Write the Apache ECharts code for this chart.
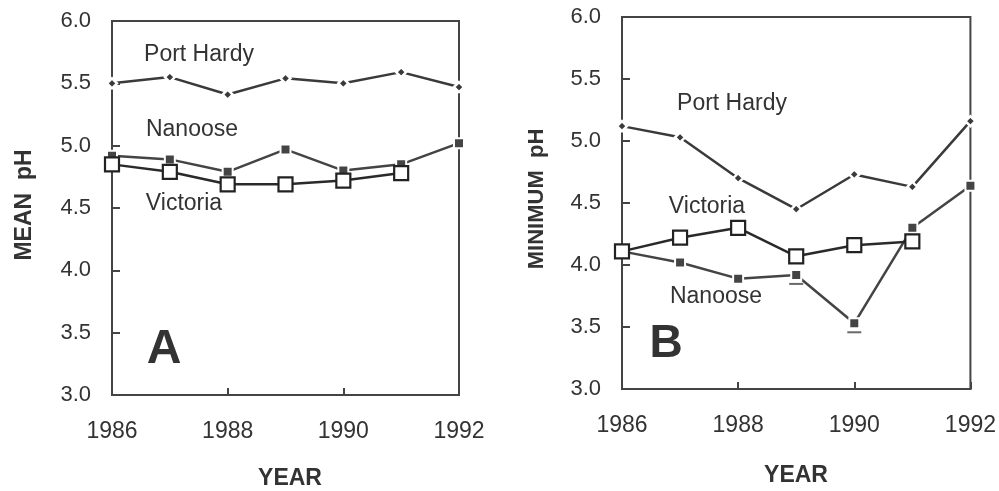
<!DOCTYPE html>
<html>
<head>
<meta charset="utf-8">
<script src="https://cdn.jsdelivr.net/npm/echarts@6/dist/echarts.min.js"></script>
<style>
html,body{margin:0;padding:0;background:#fff;}
#chart{width:999px;height:491px;}
</style>
</head>
<body>
<div id="chart"></div>
<script>
// ---- data ----
const years = [1986, 1987, 1988, 1989, 1990, 1991, 1992];
const meanPortHardy = [5.50, 5.55, 5.41, 5.54, 5.50, 5.59, 5.47];
const meanNanoose   = [4.92, 4.89, 4.79, 4.97, 4.80, 4.85, 5.02];
const meanVictoria  = [4.85, 4.79, 4.69, 4.69, 4.72, 4.78, null];
const minPortHardy  = [5.12, 5.03, 4.70, 4.45, 4.73, 4.63, 5.16];
const minNanoose    = [4.11, 4.02, 3.89, 3.92, 3.53, 4.30, 4.64];
const minVictoria   = [4.11, 4.22, 4.30, 4.07, 4.16, 4.19, null];
const minNanooseUnderlined = [1989, 1990];
const yTicks = [3.0, 3.5, 4.0, 4.5, 5.0, 5.5, 6.0];
const xTickLabels = ['1986', '1988', '1990', '1992'];
const seriesNames = ['Port Hardy', 'Nanoose', 'Victoria'];
const panelLetters = ['A', 'B'];
const yTitles = ['MEAN  pH', 'MINIMUM  pH'];
const xTitle = 'YEAR';

const FONT = '"Liberation Sans", Arial, Helvetica, sans-serif';
const INK = '#333';

function pairs(vals) {
  const out = [];
  years.forEach((y, i) => { if (vals[i] != null) out.push([y, vals[i]]); });
  return out;
}

function xAxis(gi) {
  return {
    type: 'value', gridIndex: gi, min: years[0], max: years[years.length - 1], interval: 2,
    axisLine: { show: true, lineStyle: { color: '#444', width: 2 } },
    axisTick: { show: true, inside: true, length: 7, lineStyle: { color: '#444', width: 2 } },
    splitLine: { show: false },
    axisLabel: { fontSize: 23, color: INK, fontFamily: FONT, margin: 25,
      formatter: v => xTickLabels.includes(String(v)) ? String(v) : '' }
  };
}
function yAxis(gi) {
  return {
    type: 'value', gridIndex: gi, min: yTicks[0], max: yTicks[yTicks.length - 1], interval: 0.5,
    axisLine: { show: true, lineStyle: { color: '#444', width: 2 } },
    axisTick: { show: true, inside: true, length: 8, lineStyle: { color: '#444', width: 2 } },
    splitLine: { show: false },
    axisLabel: { fontSize: 22, color: INK, fontFamily: FONT, margin: 21,
      formatter: v => v.toFixed(1) }
  };
}

function phSeries(gi, vals) {
  return {
    name: seriesNames[0], type: 'line', xAxisIndex: gi, yAxisIndex: gi,
    data: pairs(vals), symbol: 'diamond', symbolSize: 10,
    itemStyle: { color: '#3a3a3a', borderColor: '#fff', borderWidth: 2.5 },
    lineStyle: { color: '#3a3a3a', width: 2.5 }, z: 3, animation: false
  };
}
function naSeries(gi, vals) {
  return {
    name: seriesNames[1], type: 'line', xAxisIndex: gi, yAxisIndex: gi,
    data: pairs(vals), symbol: 'rect', symbolSize: 10,
    itemStyle: { color: '#444', borderColor: '#fff', borderWidth: 2 },
    lineStyle: { color: '#444', width: 2.5 }, z: 4, animation: false
  };
}
function viSeries(gi, vals) {
  return {
    name: seriesNames[2], type: 'line', xAxisIndex: gi, yAxisIndex: gi,
    data: pairs(vals), symbol: 'rect', symbolSize: 14, showAllSymbol: true,
    itemStyle: { color: '#fff', borderColor: '#222', borderWidth: 2.2 },
    lineStyle: { color: '#2a2a2a', width: 2.5 }, z: 5, animation: false
  };
}
function underlineSeries(gi, vals, yrs) {
  const data = [];
  years.forEach((y, i) => { if (yrs.includes(y)) data.push([y, vals[i]]); });
  return {
    type: 'scatter', xAxisIndex: gi, yAxisIndex: gi, data: data,
    symbol: 'rect', symbolSize: [14, 2], symbolOffset: [0, 9],
    itemStyle: { color: '#444' }, z: 4, silent: true, animation: false
  };
}

function txt(x, y, text, size, bold, rot) {
  return {
    type: 'text', x: x, y: y, rotation: rot || 0, z: 10,
    style: { text: text, fontSize: size, fontWeight: bold ? 'bold' : 'normal',
      fontFamily: FONT, fill: INK, align: 'center', verticalAlign: 'middle' }
  };
}

const chart = echarts.init(document.getElementById('chart'), null, { renderer: 'canvas' });
chart.setOption({
  animation: false,
  backgroundColor: '#fff',
  grid: [
    { left: 112, right: 540, top: 21, bottom: 96, show: true, borderColor: '#444', borderWidth: 2, backgroundColor: 'transparent' },
    { left: 622, right: 27, top: 17, bottom: 102, show: true, borderColor: '#444', borderWidth: 2, backgroundColor: 'transparent' }
  ],
  xAxis: [xAxis(0), xAxis(1)],
  yAxis: [yAxis(0), yAxis(1)],
  series: [
    phSeries(0, meanPortHardy), naSeries(0, meanNanoose), viSeries(0, meanVictoria),
    phSeries(1, minPortHardy), naSeries(1, minNanoose), viSeries(1, minVictoria),
    underlineSeries(1, minNanoose, minNanooseUnderlined)
  ],
  graphic: [
    txt(199, 55, seriesNames[0], 23),
    txt(192, 130, seriesNames[1], 23),
    txt(184, 204, seriesNames[2], 23),
    txt(732, 104, seriesNames[0], 23),
    txt(707, 207, seriesNames[2], 23),
    txt(716, 297, seriesNames[1], 23),
    txt(164, 350, panelLetters[0], 48, true),
    txt(666, 344, panelLetters[1], 46, true),
    txt(25, 205, yTitles[0], 23, true, Math.PI / 2),
    txt(537, 199, yTitles[1], 22, true, Math.PI / 2),
    txt(290, 479, xTitle, 23, true),
    txt(796, 476, xTitle, 23, true)
  ]
});
</script>
</body>
</html>
